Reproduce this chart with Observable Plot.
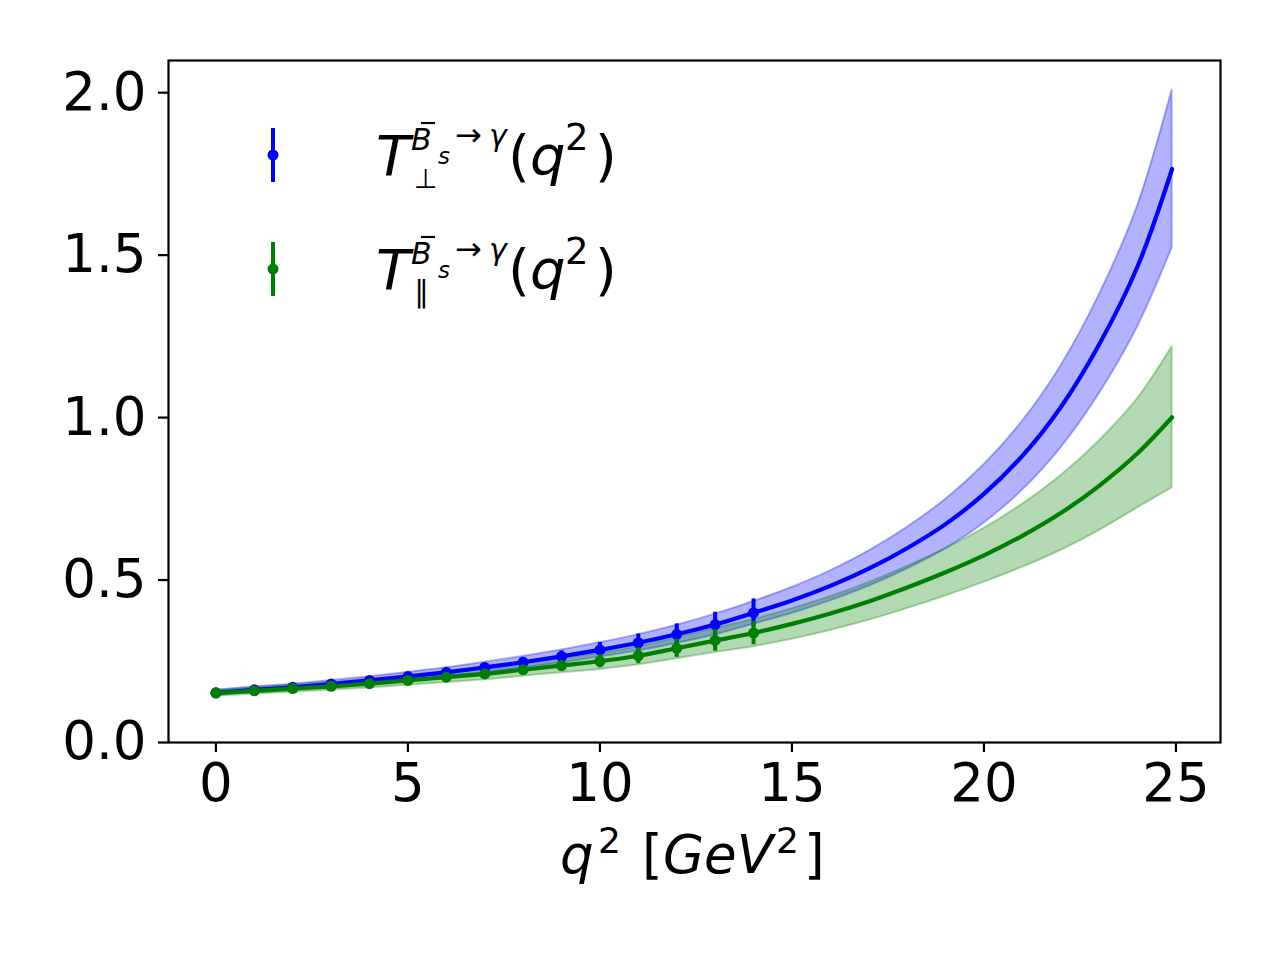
<!DOCTYPE html>
<html>
<head>
<meta charset="utf-8">
<script src="https://cdn.jsdelivr.net/npm/d3@7"></script>
<script src="https://cdn.jsdelivr.net/npm/@observablehq/plot@0.6"></script>
<style>
  html, body { margin: 0; padding: 0; background: white; }
  #chart { width: 1280px; height: 960px; }
</style>
</head>
<body>
<div id="chart"></div>
<script>
// ---- data ----
const q2Grid = [0,1,2,3,4,5,6,7,8,9,10,11,12,13,14,15,16,17,18,19,20,21,22,23,24,24.9];

const perpCentral = [0.153,0.162,0.170,0.180,0.191,0.203,0.216,0.231,0.247,0.265,0.285,0.307,0.333,0.363,0.399,0.437,0.482,0.535,0.598,0.672,0.765,0.882,1.032,1.225,1.465,1.765];
const perpHalf    = [0.008,0.009,0.0095,0.0105,0.0115,0.013,0.014,0.016,0.018,0.020,0.022,0.025,0.028,0.032,0.035,0.040,0.046,0.054,0.064,0.076,0.090,0.106,0.126,0.152,0.186,0.243];

const parCentral  = [0.152,0.159,0.166,0.173,0.181,0.191,0.201,0.211,0.224,0.237,0.250,0.267,0.290,0.314,0.337,0.365,0.397,0.434,0.477,0.524,0.576,0.636,0.706,0.790,0.890,1.001];
const parHalf     = [0.009,0.010,0.011,0.012,0.0135,0.015,0.0165,0.018,0.020,0.022,0.025,0.028,0.032,0.037,0.042,0.047,0.052,0.058,0.065,0.073,0.083,0.097,0.115,0.138,0.168,0.217];

const q2Points   = [0,1,2,3,4,5,6,7,8,9,10,11,12,13,14];
const perpPoints = [0.153,0.162,0.170,0.180,0.191,0.203,0.216,0.231,0.247,0.265,0.285,0.307,0.333,0.363,0.399];
const perpErr    = [0.004,0.005,0.006,0.007,0.008,0.009,0.010,0.012,0.014,0.017,0.023,0.027,0.032,0.038,0.043];
const parPoints  = [0.152,0.159,0.166,0.173,0.181,0.191,0.201,0.211,0.224,0.237,0.250,0.267,0.290,0.314,0.337];
const parErr     = [0.004,0.005,0.005,0.006,0.007,0.008,0.009,0.010,0.012,0.014,0.020,0.024,0.028,0.033,0.036];

const xTicks = [0,5,10,15,20,25];
const yTicks = [0.0,0.5,1.0,1.5,2.0];

// ---- tables ----
const perpBand = q2Grid.map((q,i)=>({q, c: perpCentral[i], lo: perpCentral[i]-perpHalf[i], hi: perpCentral[i]+perpHalf[i]}));
const parBand  = q2Grid.map((q,i)=>({q, c: parCentral[i], lo: parCentral[i]-parHalf[i], hi: parCentral[i]+parHalf[i]}));
const perpPts  = q2Points.map((q,i)=>({q, v: perpPoints[i], lo: perpPoints[i]-perpErr[i], hi: perpPoints[i]+perpErr[i]}));
const parPts   = q2Points.map((q,i)=>({q, v: parPoints[i], lo: parPoints[i]-parErr[i], hi: parPoints[i]+parErr[i]}));

const BLUE = "#0000ff", GREEN = "#008000";
const curve = "catmull-rom";

const svg = Plot.plot({
  width: 1280,
  height: 960,
  marginLeft: 168,
  marginRight: 60,
  marginTop: 60,
  marginBottom: 218,
  style: {fontFamily: "DejaVu Sans", fontSize: "54px", color: "black", background: "white"},
  x: {domain: [-1.235, 26.16]},
  y: {domain: [0, 2.099]},
  marks: [
    Plot.areaY(perpBand, {x: "q", y1: "lo", y2: "hi", fill: BLUE, fillOpacity: 0.3, stroke: BLUE, strokeOpacity: 0.3, strokeWidth: 2, curve}),
    Plot.areaY(parBand,  {x: "q", y1: "lo", y2: "hi", fill: GREEN, fillOpacity: 0.3, stroke: GREEN, strokeOpacity: 0.3, strokeWidth: 2, curve}),
    Plot.lineY(perpBand, {x: "q", y: "c", stroke: BLUE, strokeWidth: 4.2, curve}),
    Plot.lineY(parBand,  {x: "q", y: "c", stroke: GREEN, strokeWidth: 4.2, curve}),
    Plot.ruleX(perpPts, {x: "q", y1: "lo", y2: "hi", stroke: BLUE, strokeWidth: 4}),
    Plot.dot(perpPts,   {x: "q", y: "v", r: 5.5, fill: BLUE, stroke: "none"}),
    Plot.ruleX(parPts,  {x: "q", y1: "lo", y2: "hi", stroke: GREEN, strokeWidth: 4}),
    Plot.dot(parPts,    {x: "q", y: "v", r: 5.5, fill: GREEN, stroke: "none"}),
    Plot.axisX({ticks: xTicks, tickSize: 10, tickPadding: 11, strokeWidth: 2.2, fontSize: 53, label: null, tickFormat: d => String(d)}),
    Plot.axisY({ticks: yTicks, tickSize: 10, tickPadding: 12, strokeWidth: 2.2, fontSize: 53, label: null, tickFormat: d3.format(".1f")}),
    Plot.frame({stroke: "black", strokeWidth: 2.2})
  ]
});
document.getElementById("chart").appendChild(svg);

// ---- legend and axis label (text layout) ----
const s = d3.select(svg);
const F = "DejaVu Sans";
function richText(parts) {
  const t = s.append("text").attr("font-family", F).attr("fill", "black").attr("text-anchor", "start");
  parts.forEach(p => {
    t.append("tspan").attr("x", p.x).attr("y", p.y).attr("font-size", p.size)
      .attr("text-anchor", "start")
      .attr("font-style", p.it ? "italic" : "normal").text(p.t);
  });
  return t;
}
const legendRows = [
  {color: BLUE, cy: 155, sub: "⊥", subSize: 27},
  {color: GREEN, cy: 269, sub: "∥", subSize: 30}
];
legendRows.forEach(r => {
  s.append("line").attr("x1", 273).attr("x2", 273).attr("y1", r.cy - 27).attr("y2", r.cy + 27)
    .attr("stroke", r.color).attr("stroke-width", 4);
  s.append("circle").attr("cx", 273).attr("cy", r.cy).attr("r", 5.5).attr("fill", r.color);
  const b = r.cy + 20;
  richText([
    {x: 376, y: b, size: 56, it: true, t: "T"},
    {x: 411, y: b - 25, size: 30, it: true, t: "B"},
    {x: 438, y: b - 11, size: 23, it: true, t: "s"},
    {x: 455, y: b - 29, size: 32, it: false, t: "→"},
    {x: 489, y: b - 29, size: 30, it: true, t: "γ"},
    {x: 414, y: b + 13, size: r.subSize, it: false, t: r.sub},
    {x: 508, y: b, size: 56, it: false, t: "("},
    {x: 530, y: b, size: 56, it: true, t: "q"},
    {x: 565, y: b - 25, size: 37, it: false, t: "2"},
    {x: 595, y: b, size: 56, it: false, t: ")"}
  ]);
  s.append("line").attr("x1", 421).attr("x2", 435).attr("y1", b - 52).attr("y2", b - 52)
    .attr("stroke", "black").attr("stroke-width", 2.2);
});

// x axis label: q^2 [GeV^2]
const ly = 873;
richText([
  {x: 560, y: ly, size: 53, it: true, t: "q"},
  {x: 598, y: ly - 20, size: 36, it: false, t: "2"},
  {x: 642, y: ly, size: 53, it: false, t: "["},
  {x: 663, y: ly, size: 53, it: true, t: "GeV"},
  {x: 776, y: ly - 20, size: 36, it: false, t: "2"},
  {x: 804, y: ly, size: 53, it: false, t: "]"}
]);
</script>
</body>
</html>
